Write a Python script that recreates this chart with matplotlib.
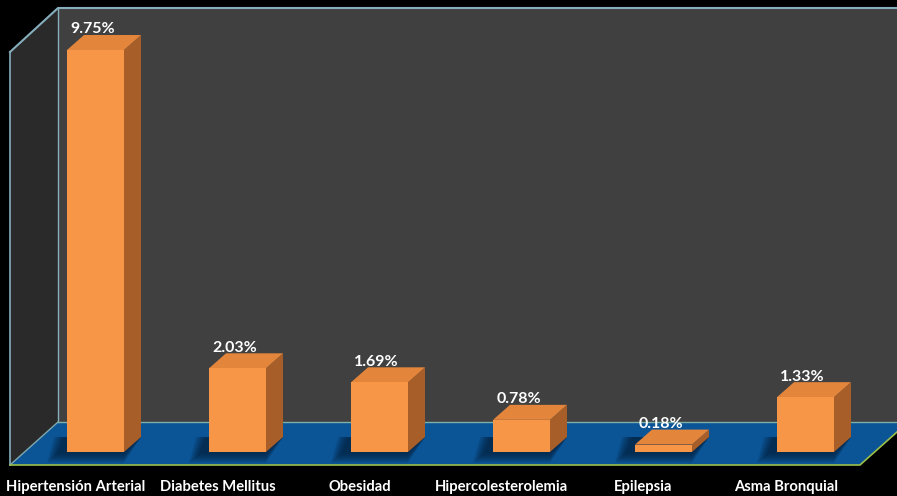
import numpy as np
import matplotlib.pyplot as plt
from matplotlib.patches import Polygon

categorias = ['Hipertensión Arterial', 'Diabetes Mellitus', 'Obesidad',
              'Hipercolesterolemia', 'Epilepsia', 'Asma Bronquial']
valores = [9.75, 2.03, 1.69, 0.78, 0.18, 1.33]
etiquetas = ['9.75%', '2.03%', '1.69%', '0.78%', '0.18%', '1.33%']

W, H = 897, 496
fuente = ['Lato', 'DejaVu Sans']

fig = plt.figure(figsize=(W / 100, H / 100), dpi=100, facecolor='black')

# fondo en pixeles: paredes y piso
bg = fig.add_axes([0, 0, 1, 1])
bg.set_xlim(0, W)
bg.set_ylim(H, 0)
bg.axis('off')
bg.set_facecolor('black')

bg.add_patch(Polygon([(10, 52), (58, 8), (58, 422), (10, 465)], closed=True,
                     fc='#2a2a2a', ec='none'))
bg.add_patch(Polygon([(58, 8), (W, 8), (W, 422), (58, 422)], closed=True,
                     fc='#404040', ec='none'))
bg.add_patch(Polygon([(10, 465), (58, 422), (W, 422), (W, 432), (860, 465)],
                     closed=True, fc='#0b5597', ec='none'))
borde = '#86aebd'
bg.plot([10, 58, W], [52, 8, 8], color=borde, lw=1.5)
bg.plot([10, 10], [52, 465], color=borde, lw=1.2)
bg.plot([58, 58], [8, 422], color=borde, lw=1.0)
bg.plot([58, W], [422, 422], color='#7fb0a8', lw=1.0)
bg.plot([10, 58], [465, 422], color='#7fa8b0', lw=1.0)
bg.plot([10, 860, W], [465, 465, 432], color='#9cc04a', lw=1.2)

# barras en unidades de datos
ax = fig.add_axes([0, 0, 1, 1])
ax.patch.set_alpha(0)
ax.axis('off')
ppu = 41.23          # pixeles por punto porcentual
sep = 142.0          # pixeles entre categorias
ax.set_ylim(-(H - 452) / ppu, 452 / ppu)
ax.set_xlim(-95.5 / sep, (W - 95.5) / sep)

ancho = 57 / sep
dx = 17 / sep
dy = 15 / ppu

frente = '#f79646'
lado = '#a85e28'
tapa = '#e4853c'

for i, v in enumerate(valores):
    x0 = i - ancho / 2
    x1 = i + ancho / 2
    # sombra difusa a la izquierda
    for k in range(6):
        e = 0.014 * k
        ax.add_patch(Polygon([(x0 - 0.07 - e, -0.05 - e * 3), (x1, -0.05 - e * 3),
                              (x1 + dx, dy), (x0 - 0.02 - e, dy)],
                             closed=True, fc='#021a33', ec='none', alpha=0.16, zorder=1))
    ax.add_patch(Polygon([(x1, 0), (x1 + dx, dy), (x1 + dx, v + dy), (x1, v)],
                         closed=True, fc=lado, ec='none', zorder=2))
    ax.add_patch(Polygon([(x0, v), (x1, v), (x1 + dx, v + dy), (x0 + dx, v + dy)],
                         closed=True, fc=tapa, ec='none', zorder=2))
    ax.add_patch(Polygon([(x0, 0), (x1, 0), (x1, v), (x0, v)],
                         closed=True, fc=frente, ec='none', zorder=3))
    ax.text(i - 0.02, v + 0.33, etiquetas[i], color='white', fontsize=11.5,
            fontweight='bold', family=fuente, ha='center', va='bottom', zorder=4)
    ax.text(i - 0.14, -0.86, categorias[i], color='white', fontsize=10.6,
            fontweight='bold', family=fuente, ha='center', va='center', zorder=4)

fig.savefig('out.png', dpi=100, facecolor='black')
